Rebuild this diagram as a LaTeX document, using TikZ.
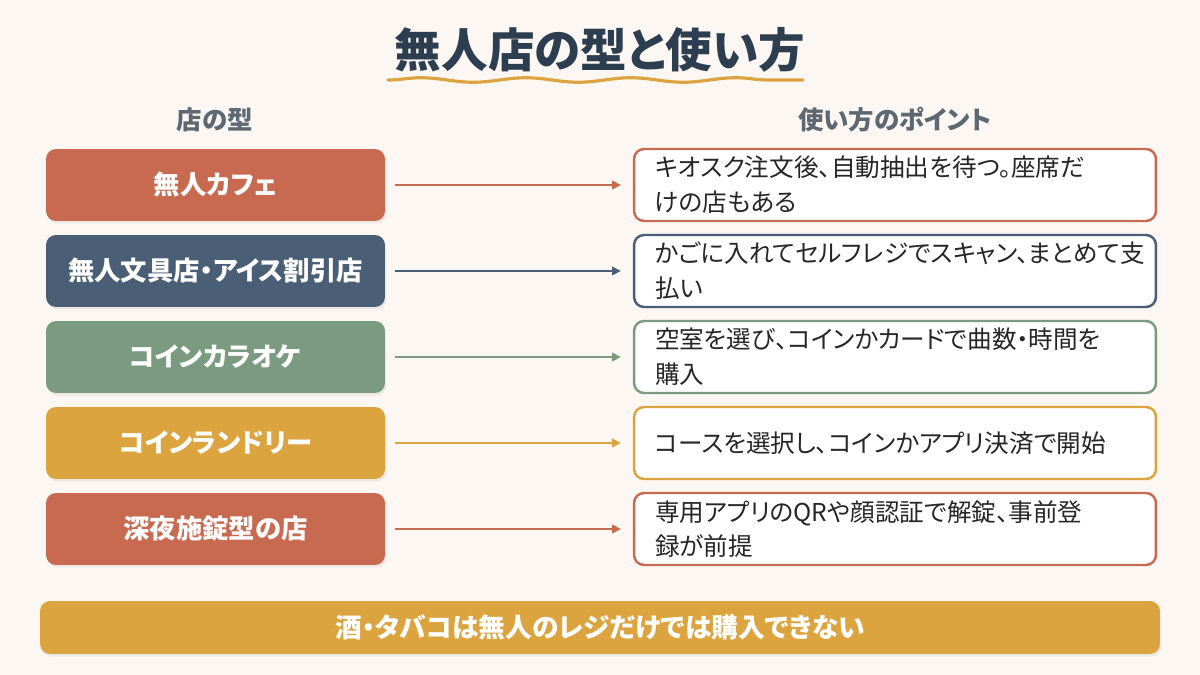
\documentclass[tikz,border=0pt]{standalone}
\usepackage{fontspec}
\setmainfont[RawFeature=+palt]{Noto Sans CJK JP}
\usetikzlibrary{arrows.meta,decorations.pathmorphing,shadows}

\definecolor{bgcol}{HTML}{FCF7F2}
\definecolor{inkcol}{HTML}{2C3E50}
\definecolor{headcol}{HTML}{5D6873}
\definecolor{redcol}{HTML}{C86A50}
\definecolor{navycol}{HTML}{4A5F76}
\definecolor{greencol}{HTML}{7B9B81}
\definecolor{goldcol}{HTML}{DBA43F}

\begin{document}
\begin{tikzpicture}[x=0.02cm,y=-0.02cm,
    every node/.style={font=\fontsize{12}{15}\selectfont},
    typebox/.style={rounded corners=0.2cm,minimum width=6.78cm,minimum height=1.44cm,
      text=white,font=\fontsize{15}{18}\selectfont\bfseries,
      drop shadow={opacity=0.12,shadow xshift=0.03cm,shadow yshift=-0.05cm}},
    usebox/.style={draw,line width=1.4pt,rounded corners=0.2cm,fill=white,
      minimum width=10.44cm,minimum height=1.44cm,text width=9.6cm,align=left,
      text=black!85,font=\fontsize{14}{19.8}\selectfont},
    link/.style={line width=0.9pt,-{Triangle[length=5pt,width=5pt]},
      shorten <=0.2cm,shorten >=0.24cm}
]

\fill[bgcol] (0,0) rectangle (1200,675);
\useasboundingbox (0,0) rectangle (1200,675);

% title
\node[text=inkcol,font=\fontsize{26.5}{30}\selectfont\bfseries] (title) at (600,50) {無人店の型と使い方};
\draw[goldcol,line width=1.8pt,line cap=round,
  decorate,decoration={snake,segment length=2.1cm,amplitude=0.045cm}]
  (388,80) -- (803,80);

% column heads
\node[text=headcol,font=\fontsize{14.5}{17}\selectfont\bfseries] (h1) at (215,120) {店の型};
\node[text=headcol,font=\fontsize{14.5}{17}\selectfont\bfseries] (h2) at (895,120) {使い方のポイント};

% types
\node[typebox,fill=redcol]   (t1) at (215.5,185) {無人カフェ};
\node[typebox,fill=navycol]  (t2) at (215.5,271) {無人文具店・アイス割引店};
\node[typebox,fill=greencol] (t3) at (215.5,357) {コインカラオケ};
\node[typebox,fill=goldcol]  (t4) at (215.5,443) {コインランドリー};
\node[typebox,fill=redcol]   (t5) at (215.5,529) {深夜施錠型の店};

% uses
\node[usebox,draw=redcol]   (u1) at (895,185) {キオスク注文後、自動抽出を待つ。座席だ\\けの店もある};
\node[usebox,draw=navycol]  (u2) at (895,271) {かごに入れてセルフレジでスキャン、まとめて支\\払い};
\node[usebox,draw=greencol] (u3) at (895,357) {空室を選び、コインかカードで曲数・時間を\\購入};
\node[usebox,draw=goldcol]  (u4) at (895,443) {コースを選択し、コインかアプリ決済で開始};
\node[usebox,draw=redcol]   (u5) at (895,529) {専用アプリのQRや顔認証で解錠、事前登\\録が前提};

\draw[link,redcol]   (t1) -- (u1);
\draw[link,navycol]  (t2) -- (u2);
\draw[link,greencol] (t3) -- (u3);
\draw[link,goldcol]  (t4) -- (u4);
\draw[link,redcol]   (t5) -- (u5);

% note
\node[typebox,fill=goldcol,minimum width=22.4cm,minimum height=1.06cm,
  font=\fontsize{15.2}{18}\selectfont\bfseries] (note) at (600,627.5)
  {酒・タバコは無人のレジだけでは購入できない};

\end{tikzpicture}
\end{document}
